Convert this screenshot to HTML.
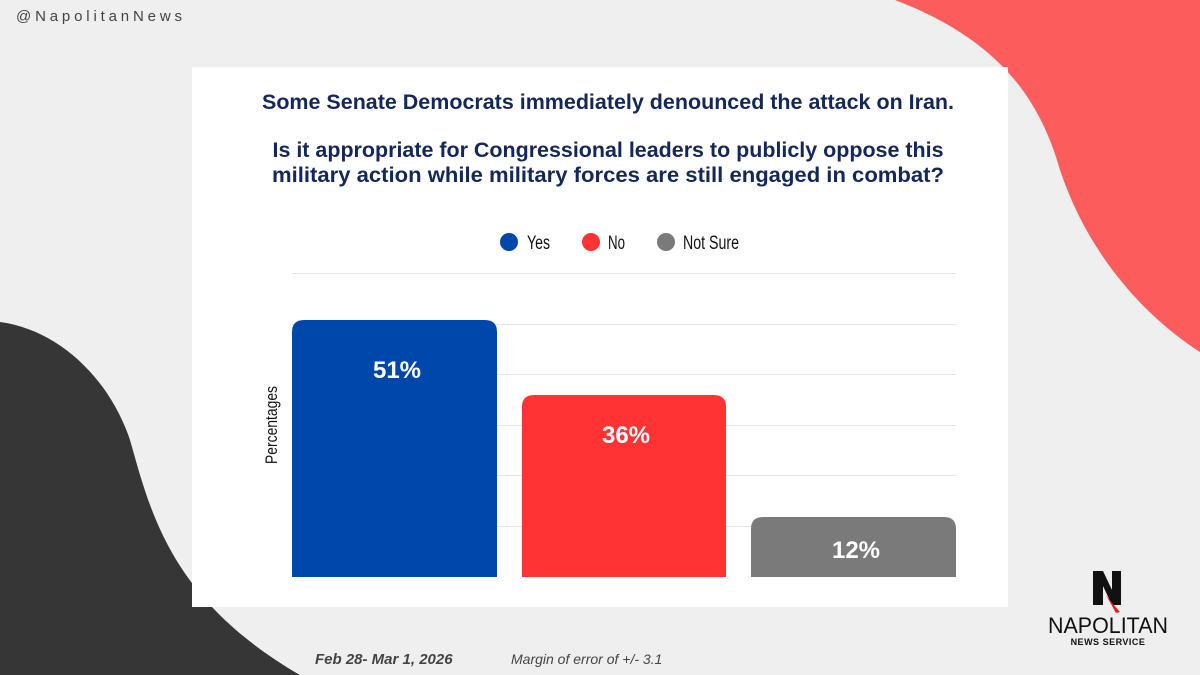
<!DOCTYPE html>
<html><head><meta charset="utf-8"><style>
html,body{margin:0;padding:0;background:#efefef;}
svg{display:block}
</style></head><body>
<svg width="1200" height="675" viewBox="0 0 1200 675" xmlns="http://www.w3.org/2000/svg" font-family="Liberation Sans, sans-serif">
<rect width="1200" height="675" fill="#efefef"/>
<path d="M895 0 L1200 0 L1200 352 C1150 320 1090 260 1060 170 C1040 100 1000 40 895 0 Z" fill="#fd5c5c"/>
<path d="M0 322 C60 330 110 380 130 440 C150 510 170 600 300 675 L0 675 Z" fill="#363636"/>
<text x="16" y="21" font-size="15" fill="#444" textLength="166" lengthAdjust="spacing">@NapolitanNews</text>
<rect x="192" y="67" width="816" height="540" fill="#fff"/>
<g font-weight="bold" fill="#13275a" font-size="21" text-anchor="middle">
<text x="608" y="109" textLength="692" lengthAdjust="spacingAndGlyphs">Some Senate Democrats immediately denounced the attack on Iran.</text>
<text x="608" y="157" textLength="671" lengthAdjust="spacingAndGlyphs">Is it appropriate for Congressional leaders to publicly oppose this</text>
<text x="608" y="182" textLength="672" lengthAdjust="spacingAndGlyphs">military action while military forces are still engaged in combat?</text>
</g>
<g font-size="19" fill="#111">
<circle cx="509" cy="242" r="9" fill="#0047ab"/><text x="527" y="249" textLength="23" lengthAdjust="spacingAndGlyphs">Yes</text>
<circle cx="591" cy="242" r="9" fill="#ff3333"/><text x="608" y="249" textLength="17" lengthAdjust="spacingAndGlyphs">No</text>
<circle cx="666" cy="242" r="9" fill="#7a7a7a"/><text x="683" y="249" textLength="56" lengthAdjust="spacingAndGlyphs">Not Sure</text>
</g>
<g stroke="#e6e6e6" stroke-width="1">
<line x1="292" x2="956" y1="273.5" y2="273.5"/><line x1="292" x2="956" y1="324.5" y2="324.5"/>
<line x1="292" x2="956" y1="374.5" y2="374.5"/><line x1="292" x2="956" y1="425.5" y2="425.5"/>
<line x1="292" x2="956" y1="475.5" y2="475.5"/><line x1="292" x2="956" y1="526.5" y2="526.5"/>
</g>
<path d="M292 577 V332 Q292 320 304 320 H485 Q497 320 497 332 V577 Z" fill="#0047ab"/>
<path d="M522 577 V407 Q522 395 534 395 H714 Q726 395 726 407 V577 Z" fill="#ff3333"/>
<path d="M751 577 V529 Q751 517 763 517 H944 Q956 517 956 529 V577 Z" fill="#7a7a7a"/>
<g fill="#fff" font-weight="bold" font-size="24" text-anchor="middle">
<text x="397" y="378">51%</text><text x="626" y="443">36%</text><text x="856" y="558">12%</text>
</g>
<text transform="translate(277,425) rotate(-90)" text-anchor="middle" font-size="17" fill="#111" textLength="78" lengthAdjust="spacingAndGlyphs">Percentages</text>
<text x="315" y="664" font-size="15" font-weight="bold" font-style="italic" fill="#444">Feb 28- Mar 1, 2026</text>
<text x="511" y="664" font-size="14" font-style="italic" fill="#444">Margin of error of +/- 3.1</text>
<g>
<path d="M1093 571 H1103 L1112 590 V571 H1121 V605 H1112 L1103 586 V605 H1093 Z" fill="#111"/>
<path d="M1106 595 L1113 604 L1120 612 L1116 613 Z" fill="#e02020"/>
<text x="1108" y="633" text-anchor="middle" font-size="22" fill="#111" textLength="120" lengthAdjust="spacingAndGlyphs">NAPOLITAN</text>
<text x="1108" y="645" text-anchor="middle" font-size="9" font-weight="bold" fill="#111" letter-spacing="0.5">NEWS SERVICE</text>
</g>
</svg>
</body></html>
